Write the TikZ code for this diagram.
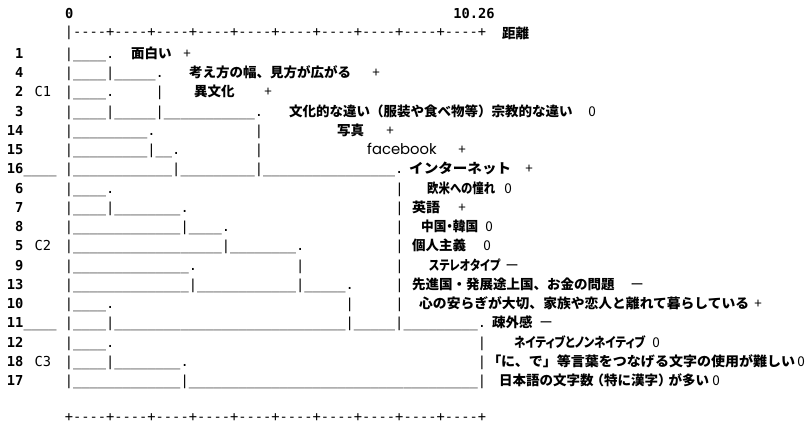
\documentclass[tikz,border=0pt]{standalone}
\usepackage{fontspec}
\setmonofont{DejaVu Sans Mono}
\newfontfamily\jp{Noto Sans CJK JP}
\newfontfamily\fbfont{Poppins}
\newcommand\paltfont{\addfontfeatures{RawFeature=+palt}}
\ExplSyntaxOn
\cs_new:Npn \usc #1 { \prg_replicate:nn {#1} {_} }
\cs_new:Npn \axisdash { \prg_replicate:nn {10} { -{}-{}-{}-+ } }
\ExplSyntaxOff
\tikzset{
  asc/.style={font=\ttfamily\fontsize{13.72}{16}\selectfont, anchor=base west, inner sep=0pt, outer sep=0pt},
  num/.style={font=\ttfamily\bfseries\fontsize{13.72}{16}\selectfont, anchor=base east, inner sep=0pt},
  hdr/.style={font=\ttfamily\bfseries\fontsize{13.72}{16}\selectfont, anchor=base west, inner sep=0pt},
  jl/.style={font=\jp\bfseries\fontsize{13.5}{16}\selectfont, anchor=base west, inner sep=0pt},
  jlp/.style={font=\jp\bfseries\fontsize{13.5}{16}\selectfont\paltfont, anchor=base west, inner sep=0pt},
  mk/.style={font=\jp\fontsize{13.5}{16}\selectfont, anchor=base, inner sep=0pt},
}
\newcommand\ascseg[4]{\node[asc] (#1) at ({64.87+8.26*(#2)},{58.5+19.24*(#3)}) {#4};}
\newcommand\rownum[3]{\node[num] (#1) at (23.57,{58.5+19.24*(#2)}) {#3};}
\newcommand\jlab[4]{\node[jl] (#1) at (#2,{58.5+19.24*(#3)}) {#4};}
% name, x, row, width, text (width fitted, height kept)
\newcommand\jlabw[5]{\node[jl] (#1) at (#2,{58.5+19.24*(#3)}) {\resizebox{#4pt}{\height}{#5}};}
\newcommand\jlabp[5]{\node[jlp] (#1) at (#2,{58.5+19.24*(#3)}) {\resizebox{#4pt}{\height}{#5}};}
\newcommand\mkr[4]{\node[mk] (#1) at (#2,{58.5+19.24*(#3)}) {#4};}
\begin{document}
\begin{tikzpicture}[x=1pt,y=-1pt]
\path[use as bounding box, fill=white] (0,0) rectangle (806,424);
% header
\node[hdr] (h0) at (64.87,18) {0};
\node[hdr] (h1) at ({64.87+8.26*47},18) {10.26};
\node[asc] (axtop) at (64.87,36.7) {|\axisdash};
\node[jl] (dist) at (502,38) {距離};
\node[asc] (axbot) at (64.87,421.7) {+\axisdash};
% row numbers
\rownum{n0}{0}{1}
\rownum{n1}{1}{4}
\rownum{n2}{2}{2}
\rownum{n3}{3}{3}
\rownum{n4}{4}{14}
\rownum{n5}{5}{15}
\rownum{n6}{6}{16}
\rownum{n7}{7}{6}
\rownum{n8}{8}{7}
\rownum{n9}{9}{8}
\rownum{n10}{10}{5}
\rownum{n11}{11}{9}
\rownum{n12}{12}{13}
\rownum{n13}{13}{10}
\rownum{n14}{14}{11}
\rownum{n15}{15}{12}
\rownum{n16}{16}{18}
\rownum{n17}{17}{17}
\ascseg{u6}{-5}{6}{\usc{4}}
\ascseg{u14}{-5}{14}{\usc{4}}
\node[asc] (c1) at (34.5,{58.5+19.24*2}) {C1};
\node[asc] (c2) at (34.5,{58.5+19.24*10}) {C2};
\node[asc] (c3) at (34.5,{58.5+19.24*16}) {C3};
% dendrogram
\ascseg{a0}{0}{0}{|\usc{4}.}
\ascseg{a1}{0}{1}{|\usc{4}|\usc{5}.}
\ascseg{a2}{0}{2}{|\usc{4}.}
\ascseg{a2b}{11}{2}{|}
\ascseg{a3}{0}{3}{|\usc{4}|\usc{5}|\usc{11}.}
\ascseg{a4}{0}{4}{|\usc{9}.}
\ascseg{a4b}{23}{4}{|}
\ascseg{a5}{0}{5}{|\usc{9}|\usc{2}.}
\ascseg{a5b}{23}{5}{|}
\ascseg{a6}{0}{6}{|\usc{12}|\usc{9}|\usc{16}.}
\ascseg{a7}{0}{7}{|\usc{4}.}
\ascseg{a7b}{40}{7}{|}
\ascseg{a8}{0}{8}{|\usc{4}|\usc{8}.}
\ascseg{a8b}{40}{8}{|}
\ascseg{a9}{0}{9}{|\usc{13}|\usc{4}.}
\ascseg{a9b}{40}{9}{|}
\ascseg{a10}{0}{10}{|\usc{18}|\usc{8}.}
\ascseg{a10b}{40}{10}{|}
\ascseg{a11}{0}{11}{|\usc{14}.}
\ascseg{a11b}{28}{11}{|}
\ascseg{a11c}{40}{11}{|}
\ascseg{a12}{0}{12}{|\usc{14}|\usc{12}|\usc{5}.}
\ascseg{a12b}{40}{12}{|}
\ascseg{a13}{0}{13}{|\usc{4}.}
\ascseg{a13b}{34}{13}{|}
\ascseg{a13c}{40}{13}{|}
\ascseg{a14}{0}{14}{|\usc{4}|\usc{28}|\usc{5}|\usc{9}.}
\ascseg{a15}{0}{15}{|\usc{4}.}
\ascseg{a15b}{50}{15}{|}
\ascseg{a16}{0}{16}{|\usc{4}|\usc{8}.}
\ascseg{a16b}{50}{16}{|}
\ascseg{a17}{0}{17}{|\usc{13}|\usc{35}|}
% labels
\jlab{l0}{131}{0}{面白い}
\mkr{m0}{187}{0}{+}
\jlab{l1}{189}{1}{考え方の幅、見方が広がる}
\mkr{m1}{376}{1}{+}
\jlab{l2}{194}{2}{異文化}
\mkr{m2}{268}{2}{+}
\jlab{l3}{289}{3}{文化的な違い（服装や食べ物等）宗教的な違い}
\mkr{m3}{592}{3}{0}
\jlab{l4}{337}{4}{写真}
\mkr{m4}{390}{4}{+}
\node[anchor=base west, inner sep=0pt, font=\fbfont\fontsize{14.8}{16}\selectfont] (l5) at (367,{58.5+19.24*5}) {facebook};
\mkr{m5}{462}{5}{+}
\jlabw{l6}{409}{6}{102}{インターネット}
\mkr{m6}{529}{6}{+}
\jlabp{l7}{427}{7}{68}{欧米への憧れ}
\mkr{m7}{508}{7}{0}
\jlabp{l8}{412}{8}{28}{英語}
\mkr{m8}{462}{8}{+}
\jlabp{l9}{421}{9}{57}{中国・韓国}
\mkr{m9}{489}{9}{0}
\jlab{l10}{412}{10}{個人主義}
\mkr{m10}{487}{10}{0}
\jlabp{l11}{429}{11}{71}{ステレオタイプ}
\mkr{m11}{512}{11}{ー}
\jlab{l12}{412}{12}{先進国・発展途上国、お金の問題}
\mkr{m12}{637}{12}{ー}
\jlabw{l13}{419}{13}{330}{心の安らぎが大切、家族や恋人と離れて暮らしている}
\mkr{m13}{758}{13}{+}
\jlab{l14}{492}{14}{疎外感}
\mkr{m14}{546}{14}{ー}
\jlabp{l15}{514}{15}{131}{ネイティブとノンネイティブ}
\mkr{m15}{656}{15}{0}
\node[jl] (l16) at (494,{58.5+19.24*16}) {\resizebox{301pt}{\height}{{\paltfont 「}に、で」等言葉をつなげる文字の使用が難しい}};
\mkr{m16}{801}{16}{0}
\jlab{l17}{499}{17}{日本語の文字数\kern-3pt（特に漢字）\kern-3pt が多い}
\mkr{m17}{716}{17}{0}
\end{tikzpicture}
\end{document}
